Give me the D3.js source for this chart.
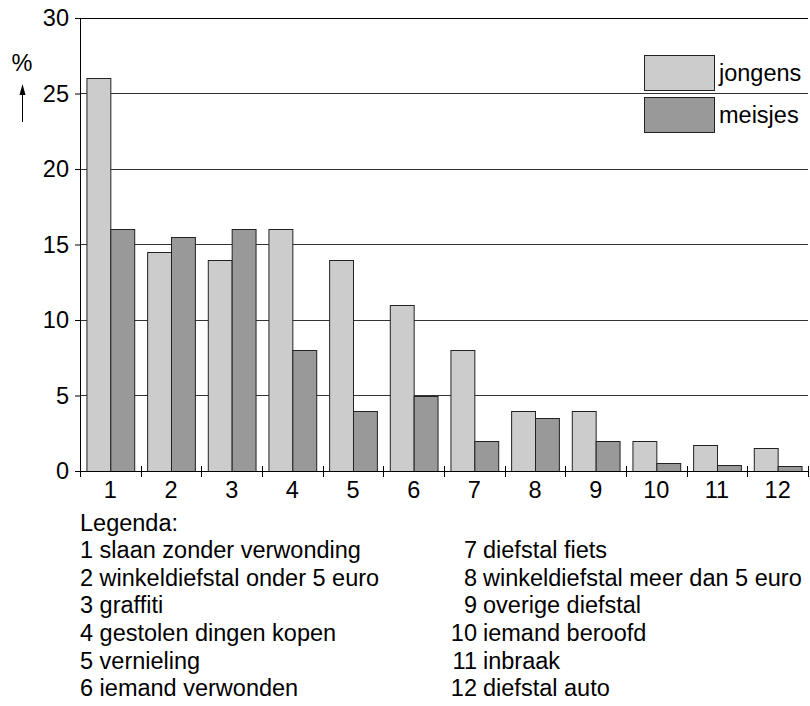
<!DOCTYPE html>
<html>
<head>
<meta charset="utf-8">
<script src="https://cdn.jsdelivr.net/npm/d3@7/dist/d3.min.js"></script>
<style>
  html, body { margin: 0; padding: 0; background: #fff; }
  svg { display: block; }
  text { font-family: "Liberation Sans", Arial, sans-serif; fill: #000; }
</style>
</head>
<body>
<svg id="chart" width="810" height="706"></svg>
<script>
const categories = ["1","2","3","4","5","6","7","8","9","10","11","12"];
const jongens = [26, 14.5, 14, 16, 14, 11, 8, 4, 4, 2, 1.7, 1.5];
const meisjes = [16, 15.5, 16, 8, 4, 5, 2, 3.5, 2, 0.5, 0.4, 0.3];
const seriesNames = ["jongens", "meisjes"];
const seriesColors = ["#cccccc", "#999999"];
const yTicks = [0, 5, 10, 15, 20, 25, 30];
const legendLeft = ["1 slaan zonder verwonding","2 winkeldiefstal onder 5 euro","3 graffiti","4 gestolen dingen kopen","5 vernieling","6 iemand verwonden"];
const legendRightNum = ["7","8","9","10","11","12"];
const legendRightText = ["diefstal fiets","winkeldiefstal meer dan 5 euro","overige diefstal","iemand beroofd","inbraak","diefstal auto"];

const svg = d3.select("#chart");
const FS = 23.5;
const x0 = 80, x1 = 808, yTop = 18, yBot = 471;

const x = d3.scaleBand().domain(categories).range([x0, x1]).paddingInner(0).paddingOuter(0);
const xs = d3.scaleBand().domain(seriesNames).range([0, x.bandwidth()]).paddingInner(0).paddingOuter(0.27);
const y = d3.scaleLinear().domain([0, 30]).range([yBot, yTop]);

// gridlines
svg.append("g").selectAll("line").data(yTicks.filter(d => d > 0 && d < 30)).join("line")
  .attr("x1", x0).attr("x2", x1).attr("y1", d => y(d)).attr("y2", d => y(d))
  .attr("stroke", "#333").attr("stroke-width", 1).attr("shape-rendering", "crispEdges");
// top frame line
svg.append("line").attr("x1", x0).attr("x2", x1).attr("y1", y(30)).attr("y2", y(30))
  .attr("stroke", "#000").attr("stroke-width", 1).attr("shape-rendering", "crispEdges");

// bars
const data = categories.map((c, i) => ({c, vals: [jongens[i], meisjes[i]]}));
const groups = svg.append("g").selectAll("g").data(data).join("g")
  .attr("transform", d => `translate(${x(d.c)},0)`);
groups.selectAll("rect").data(d => d.vals.map((v, k) => ({k, v}))).join("rect")
  .attr("x", d => xs(seriesNames[d.k]) + 0.5)
  .attr("width", xs.bandwidth())
  .attr("y", d => Math.round(y(d.v)) + 0.5)
  .attr("height", d => yBot - Math.round(y(d.v)))
  .attr("fill", d => seriesColors[d.k])
  .attr("stroke", "#222").attr("stroke-width", 1);

// y axis
const yAxis = d3.axisLeft(y).tickValues(yTicks).tickSize(5).tickPadding(6);
const gy = svg.append("g").attr("transform", `translate(${x0},0)`).call(yAxis);
gy.select(".domain").attr("stroke", "#000").attr("d", `M0.5,${yTop}V${yBot}`);
gy.selectAll(".tick line").attr("stroke", "#000");
gy.selectAll(".tick text").attr("font-size", FS).attr("font-family", "Liberation Sans, Arial, sans-serif").attr("fill", "#000");

// x axis
svg.append("line").attr("x1", x0).attr("x2", x1 + 1).attr("y1", yBot + 0.5).attr("y2", yBot + 0.5).attr("stroke", "#000");
const bounds = categories.map(c => x(c)).concat([x1]);
svg.append("g").selectAll("line").data(bounds).join("line")
  .attr("x1", d => Math.round(d) + 0.5).attr("x2", d => Math.round(d) + 0.5)
  .attr("y1", yBot - 5).attr("y2", yBot + 6).attr("stroke", "#000");
svg.append("g").selectAll("text").data(categories).join("text")
  .attr("x", d => x(d) + x.bandwidth() / 2).attr("y", 498)
  .attr("text-anchor", "middle").attr("font-size", FS).text(d => d);

// % and arrow
svg.append("text").attr("x", 22).attr("y", 71).attr("text-anchor", "middle").attr("font-size", FS).text("%");
svg.append("line").attr("x1", 22.5).attr("x2", 22.5).attr("y1", 92).attr("y2", 122).attr("stroke", "#000").attr("stroke-width", 1);
svg.append("path").attr("d", "M22.5,84 L19.5,95 L25.5,95 Z").attr("fill", "#000");

// series legend
const lg = svg.append("g");
seriesNames.forEach((s, i) => {
  const top = 55.5 + i * 42;
  lg.append("rect").attr("x", 644.5).attr("y", top).attr("width", 70).attr("height", 35)
    .attr("fill", seriesColors[i]).attr("stroke", "#222");
  lg.append("text").attr("x", 719).attr("y", top + 25).attr("font-size", FS).text(s);
});

// category legend
const baseY = 530.5, lh = 27.6;
svg.append("text").attr("x", 80).attr("y", baseY).attr("font-size", FS).text("Legenda:");
legendLeft.forEach((t, i) => {
  svg.append("text").attr("x", 80).attr("y", baseY + (i + 1) * lh).attr("font-size", FS).text(t);
});
legendRightNum.forEach((n, i) => {
  svg.append("text").attr("x", 477).attr("y", baseY + (i + 1) * lh).attr("text-anchor", "end").attr("font-size", FS).text(n);
  svg.append("text").attr("x", 483).attr("y", baseY + (i + 1) * lh).attr("font-size", FS).text(legendRightText[i]);
});
</script>
</body>
</html>
